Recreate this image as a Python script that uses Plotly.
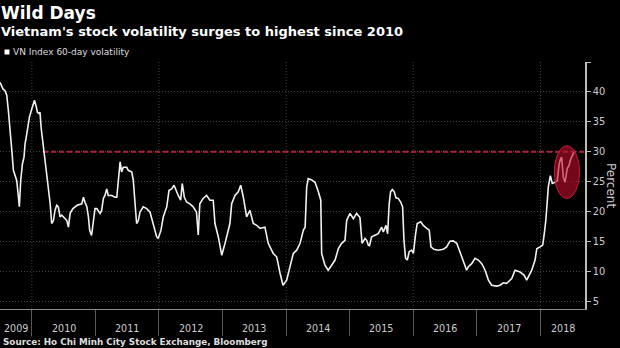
import pandas as pd
import plotly.graph_objects as go

# ---------------- data ----------------
dates = [
    "2009-07-02", "2009-07-12", "2009-07-19", "2009-07-31", "2009-08-10", "2009-08-19",
    "2009-08-29", "2009-09-08", "2009-09-17", "2009-09-27", "2009-10-06", "2009-10-16",
    "2009-10-21", "2009-10-29", "2009-11-08", "2009-11-17", "2009-11-23", "2009-12-03",
    "2009-12-18", "2010-01-01", "2010-01-10", "2010-01-16", "2010-01-25", "2010-02-02",
    "2010-02-11", "2010-02-17", "2010-02-23", "2010-03-02", "2010-03-08", "2010-03-18",
    "2010-03-28", "2010-04-06", "2010-04-16", "2010-04-25", "2010-05-05", "2010-05-14",
    "2010-05-24", "2010-06-02", "2010-06-12", "2010-06-22", "2010-07-01", "2010-07-21",
    "2010-07-30", "2010-08-09", "2010-08-25", "2010-09-18", "2010-10-15", "2010-10-24",
    "2010-11-03", "2010-11-13", "2010-11-22", "2010-11-29", "2010-12-10", "2010-12-30",
    "2011-01-09", "2011-01-28", "2011-02-06", "2011-02-16", "2011-02-25", "2011-03-07",
    "2011-03-16", "2011-04-05", "2011-04-24", "2011-05-04", "2011-05-13", "2011-05-23",
    "2011-06-01", "2011-06-10", "2011-06-30", "2011-07-09", "2011-07-29", "2011-08-07",
    "2011-08-17", "2011-08-26", "2011-09-05", "2011-09-14", "2011-10-03", "2011-10-23",
    "2011-11-11", "2011-11-30", "2011-12-19", "2011-12-28", "2012-01-13", "2012-01-26",
    "2012-02-15", "2012-02-28", "2012-03-14", "2012-03-28", "2012-04-08", "2012-04-21",
    "2012-05-05", "2012-05-14", "2012-05-26", "2012-06-08", "2012-06-27", "2012-07-16",
    "2012-08-04", "2012-08-14", "2012-08-23", "2012-09-11", "2012-10-01", "2012-10-20",
    "2012-11-08", "2012-11-18", "2012-12-07", "2012-12-27", "2013-01-15", "2013-02-03",
    "2013-02-12", "2013-02-22", "2013-03-13", "2013-04-01", "2013-04-15", "2013-04-30",
    "2013-05-19", "2013-06-07", "2013-06-26", "2013-07-16", "2013-08-04", "2013-09-01",
    "2013-09-20", "2013-10-19", "2013-11-08", "2013-11-27", "2013-12-14", "2014-01-04",
    "2014-01-23", "2014-02-11", "2014-03-03", "2014-03-22", "2014-04-10", "2014-04-20",
    "2014-04-29", "2014-05-08", "2014-05-28", "2014-06-16", "2014-07-05", "2014-07-19",
    "2014-07-24", "2014-08-12", "2014-08-31", "2014-09-20", "2014-10-09", "2014-10-28",
    "2014-11-16", "2014-12-05", "2014-12-15", "2015-01-03", "2015-01-22", "2015-02-10",
    "2015-03-01", "2015-03-13", "2015-03-30", "2015-04-09", "2015-04-18", "2015-04-25",
    "2015-05-07", "2015-05-26", "2015-06-14", "2015-07-04", "2015-07-13", "2015-07-29",
    "2015-08-07", "2015-08-16", "2015-08-24", "2015-09-03", "2015-09-14", "2015-09-24",
    "2015-10-07", "2015-10-21", "2015-11-01", "2015-11-09", "2015-11-18", "2015-11-28",
    "2015-12-09", "2015-12-23", "2016-01-02", "2016-01-15", "2016-01-24", "2016-02-13",
    "2016-02-28", "2016-03-19", "2016-04-02", "2016-04-12", "2016-04-29", "2016-05-24",
    "2016-06-22", "2016-07-11", "2016-07-30", "2016-08-18", "2016-09-07", "2016-09-22",
    "2016-10-06", "2016-10-19", "2016-11-03", "2016-11-13", "2016-12-02", "2016-12-21",
    "2017-01-09", "2017-01-29", "2017-02-17", "2017-03-08", "2017-03-27", "2017-04-25",
    "2017-05-14", "2017-06-02", "2017-06-21", "2017-07-20", "2017-08-08", "2017-09-06",
    "2017-09-29", "2017-10-14", "2017-10-23", "2017-11-12", "2017-12-01", "2017-12-11",
    "2017-12-30", "2018-01-14", "2018-01-22", "2018-02-01", "2018-02-10", "2018-02-15",
    "2018-02-27", "2018-03-10", "2018-03-26", "2018-04-08", "2018-04-14", "2018-04-19",
    "2018-04-27", "2018-05-03", "2018-05-12", "2018-05-22", "2018-06-04", "2018-06-14",
    "2018-06-24", "2018-07-03", "2018-07-08", "2018-07-12",
]

volatility = [
    41.6, 41.0, 40.5, 40.2, 39.4, 36.9,
    34.1, 30.2, 26.9, 25.8, 25.2, 22.4,
    20.8, 25.2, 28.0, 29.1, 31.3, 33.0,
    35.8, 37.2, 38.0, 38.6, 37.7, 36.6,
    36.4, 36.6, 34.1, 32.4, 30.2, 28.0,
    25.8, 23.5, 21.4, 18.0, 18.5, 20.2,
    21.05, 20.8, 19.1, 19.4, 19.1, 18.5,
    17.4, 19.7, 20.5, 21.05, 21.3, 22.4,
    21.5, 20.8, 19.1, 16.9, 16.0, 20.5,
    20.5, 19.7, 20.2, 22.2, 22.7, 23.8,
    22.7, 22.7, 22.4, 22.4, 25.2, 28.3,
    26.6, 27.4, 27.4, 26.9, 26.6, 25.2,
    21.3, 18.0, 18.5, 19.9, 20.8, 20.5,
    19.9, 18.0, 15.8, 15.5, 16.9, 19.1,
    20.8, 23.55, 23.8, 24.4, 23.55, 22.7,
    21.9, 24.7, 22.4, 21.6, 21.3, 20.8,
    19.9, 16.1, 21.3, 22.2, 22.7, 21.9,
    21.9, 18.0, 15.8, 12.7, 14.7, 16.9,
    18.0, 21.3, 22.7, 23.3, 24.4, 22.4,
    19.1, 20.2, 18.0, 17.7, 17.2, 17.4,
    14.7, 13.0, 12.4, 9.7, 7.7, 8.55,
    10.8, 13.0, 13.55, 14.7, 16.9, 17.4,
    24.1, 25.5, 25.3, 24.9, 23.3, 21.9,
    13.0, 11.05, 10.2, 11.05, 11.9, 13.8,
    14.7, 15.2, 18.55, 19.7, 18.8, 19.7,
    19.0, 14.7, 15.5, 15.2, 14.4, 14.3,
    15.8, 16.05, 16.3, 17.4, 16.6, 17.7,
    16.3, 21.3, 23.3, 23.7, 23.3, 22.3,
    22.2, 21.6, 20.8, 15.2, 12.2, 11.9,
    13.3, 13.55, 13.0, 16.3, 18.0, 18.3,
    17.7, 17.2, 16.9, 14.1, 13.7, 13.55,
    13.7, 14.1, 15.05, 15.1, 14.7, 13.55,
    12.4, 11.6, 10.2, 10.8, 11.3, 12.2,
    11.9, 11.3, 10.2, 8.55, 7.7, 7.55,
    7.7, 8.1, 8.0, 8.8, 10.2, 9.9,
    9.4, 8.55, 9.1, 10.2, 11.9, 13.8,
    14.1, 14.4, 16.05, 18.55, 22.0, 24.1,
    26.0, 24.7, 24.9, 25.2, 26.9, 28.0,
    28.8, 29.1, 25.8, 24.9, 27.2, 27.7,
    28.8, 29.5, 29.8, 29.9,
]

series_name = "VN Index 60-day volatility"
title_text = "Wild Days"
subtitle_text = "Vietnam's stock volatility surges to highest since 2010"
source_text = "Source: Ho Chi Minh City Stock Exchange, Bloomberg"
y_title = "Percent"

year_labels = ["2009", "2010", "2011", "2012", "2013", "2014", "2015", "2016", "2017", "2018"]
y_tick_values = [5, 10, 15, 20, 25, 30, 35, 40, 45]
y_tick_labels = ["5", "10", "15", "20", "25", "30", "35", "40", ""]

threshold_level = 30
threshold_start = "2010-03-06"
highlight_dates = ["2018-03-22", "2018-08-13"]
highlight_levels = [22.2, 31.0]

x_range = ["2009-07-02", "2018-09-14"]
y_range = [3.72, 45]

# ---------------- styling ----------------
FONT = "DejaVu Sans"
W, H = 620, 348
M_L, M_R, M_T, M_B = 0, 35, 62, 39
PH = H - M_T - M_B


def py(pix):
    """pixel row -> paper y"""
    return (H - M_B - pix) / PH


def px(pix):
    return (pix - M_L) / (W - M_L - M_R)


fig = go.Figure()
fig.add_trace(go.Scatter(
    x=pd.to_datetime(dates), y=volatility, mode="lines", name=series_name,
    line=dict(color="#f2f2f2", width=1.6), showlegend=False,
))

shapes = []
# vertical dotted grid lines every two years
for lab in year_labels[1::2]:
    shapes.append(dict(type="line", xref="x", yref="paper",
                       x0=f"{lab}-01-01", x1=f"{lab}-01-01", y0=0, y1=1,
                       line=dict(color="#404040", width=1, dash="1px,2px"), layer="below"))
# threshold dashed line
shapes.append(dict(type="line", xref="x", yref="y",
                   x0=threshold_start, x1=x_range[1], y0=threshold_level, y1=threshold_level,
                   line=dict(color="#d01a3c", width=2, dash="5px,3px"), layer="below"))
# highlight ellipse
shapes.append(dict(type="circle", xref="x", yref="y",
                   x0=highlight_dates[0], x1=highlight_dates[1],
                   y0=highlight_levels[0], y1=highlight_levels[1],
                   fillcolor="rgba(190,14,44,0.6)",
                   line=dict(color="rgba(210,25,55,0.95)", width=1), layer="above"))
# legend swatch
shapes.append(dict(type="rect", xref="paper", yref="paper",
                   x0=px(4.5), x1=px(9.5), y0=py(54.5), y1=py(49.5),
                   fillcolor="#ffffff", line=dict(width=0)))

annotations = [
    dict(text=f"<b>{title_text}</b>", x=px(-1), y=py(13), xref="paper", yref="paper",
         xanchor="left", yanchor="middle", showarrow=False,
         font=dict(family=FONT, size=17, color="#ffffff")),
    dict(text=f"<b>{subtitle_text}</b>", x=px(-1.5), y=py(31), xref="paper", yref="paper",
         xanchor="left", yanchor="middle", showarrow=False,
         font=dict(family=FONT, size=13, color="#ffffff")),
    dict(text=series_name, x=px(11), y=py(52), xref="paper", yref="paper",
         xanchor="left", yanchor="middle", showarrow=False,
         font=dict(family=FONT, size=9, color="#dddddd")),
    dict(text=f"<b>{source_text}</b>", x=px(1), y=py(342), xref="paper", yref="paper",
         xanchor="left", yanchor="middle", showarrow=False,
         font=dict(family=FONT, size=8.8, color="#dddddd")),
    dict(text=y_title, x=px(611), y=py(185), xref="paper", yref="paper",
         xanchor="center", yanchor="middle", showarrow=False, textangle=90,
         font=dict(family=FONT, size=12, color="#cccccc")),
]

# year labels centred in the visible part of each year
r0, r1 = pd.Timestamp(x_range[0]), pd.Timestamp(x_range[1])
for lab in year_labels:
    yr = int(lab)
    a = max(pd.Timestamp(f"{yr}-01-01"), r0)
    b = min(pd.Timestamp(f"{yr + 1}-01-01"), r1)
    mid = a + (b - a) / 2
    annotations.append(dict(text=lab, x=mid, y=py(328), xref="x", yref="paper",
                            xanchor="center", yanchor="middle", showarrow=False,
                            font=dict(family=FONT, size=9.6, color="#cccccc")))

fig.update_layout(
    width=W, height=H,
    margin=dict(l=M_L, r=M_R, t=M_T, b=M_B, pad=0),
    paper_bgcolor="#000000", plot_bgcolor="#000000",
    font=dict(family=FONT, color="#cccccc"),
    shapes=shapes, annotations=annotations,
    showlegend=False,
    xaxis=dict(
        type="date", range=x_range,
        tickmode="array", tickvals=[f"{y}-01-01" for y in year_labels[1:]],
        showticklabels=False, ticks="outside", ticklen=26, tickwidth=1, tickcolor="#5a5a5a",
        showgrid=False, zeroline=False,
        showline=True, linecolor="#8a8a8a", linewidth=1,
    ),
    yaxis=dict(
        side="right", range=y_range,
        tickmode="array", tickvals=y_tick_values, ticktext=y_tick_labels,
        ticks="outside", ticklen=4, tickwidth=1, tickcolor="#bbbbbb",
        tickfont=dict(family=FONT, size=9.8, color="#cccccc"),
        showgrid=True, gridcolor="#404040", gridwidth=1, griddash="1px,2px",
        zeroline=False, showline=True, linecolor="#bbbbbb", linewidth=1.5,
    ),
)

fig.write_html("out.html")
